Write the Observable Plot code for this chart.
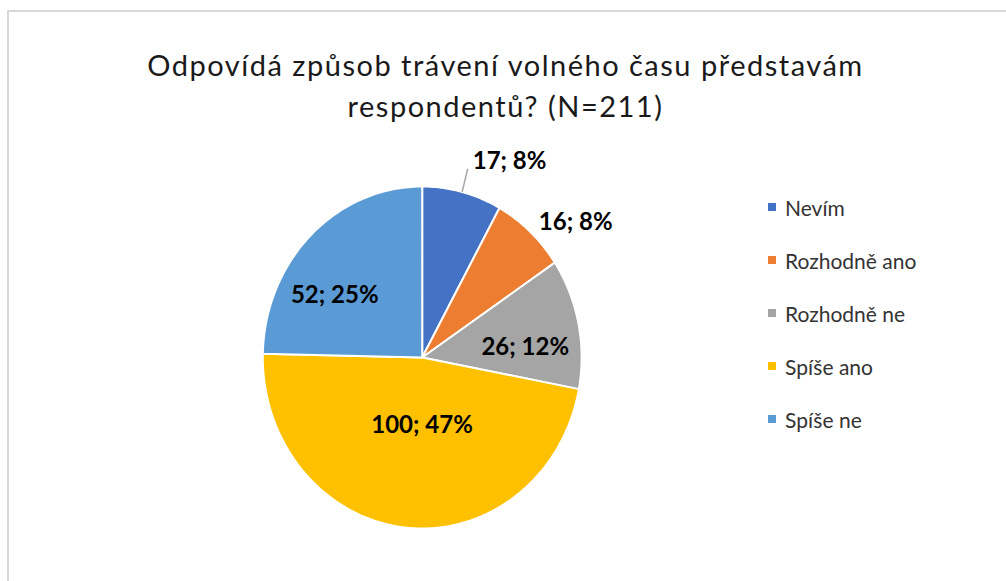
<!DOCTYPE html>
<html><head><meta charset="utf-8">
<script src="https://cdn.jsdelivr.net/npm/d3@7"></script>
<script src="https://cdn.jsdelivr.net/npm/@observablehq/plot@0.6"></script>
<style>
html,body{margin:0;padding:0;background:#fff;overflow:hidden;}
#wrap{position:relative;width:1006px;height:581px;overflow:hidden;}
#frame{position:absolute;left:7px;top:10px;width:1100px;height:700px;border-top:2px solid #d9d9d9;border-left:2px solid #d9d9d9;}
#chart{position:absolute;left:0;top:0;}
#title{position:absolute;left:0;top:44px;width:1011px;text-align:center;font-family:Lato,sans-serif;font-size:29px;line-height:41px;letter-spacing:1.5px;color:#1a1a1a;}
#legend{position:absolute;left:768px;top:180.5px;}
#legend > div{display:flex !important;flex-direction:column !important;align-items:flex-start !important;margin:0 !important;min-height:0 !important;font-family:Lato,sans-serif !important;font-size:21px !important;}
#legend [class$="-swatch"]{display:flex !important;align-items:center !important;height:53px;margin:0 !important;font-family:Lato,sans-serif !important;font-size:21px !important;color:#333;}
#legend [class$="-swatch"] > svg{margin-right:9px !important;}
</style></head>
<body>
<div id="wrap"><div id="frame"></div><div id="chart"></div>
<div id="title">Odpovídá způsob trávení volného času představám<br>respondentů? (N=211)</div>
<div id="legend"></div></div>
<script>
const categories = ["Nevím", "Rozhodně ano", "Rozhodně ne", "Spíše ano", "Spíše ne"];
const counts = [17, 16, 26, 100, 52];
const colors = ["#4472C4", "#ED7D31", "#A5A5A5", "#FFC000", "#5B9BD5"];
const showLeader = [true, false, false, false, false];

// label layout (styling)
const labelRadius = [1.14, 1.08, 0.66, 0.40, 0.65];
const labelAnchor = ["start", "start", "middle", "middle", "middle"];
const labelNudge = [[5, -7], [0, 0.5], [0, 12], [6.5, 0], [-15, 17.5]];

const total = d3.sum(counts);
const arcs = d3.pie().sort(null).value(d => d)(counts);

const slicePts = arcs.flatMap((a, i) => {
  const n = Math.max(2, Math.ceil((a.endAngle - a.startAngle) / (Math.PI / 180)));
  const pts = [{cat: categories[i], x: 0, y: 0}];
  for (let k = 0; k <= n; k++) {
    const t = a.startAngle + (a.endAngle - a.startAngle) * k / n;
    pts.push({cat: categories[i], x: Math.sin(t), y: Math.cos(t)});
  }
  return pts;
});

const labels = arcs.map((a, i) => {
  const mid = (a.startAngle + a.endAngle) / 2;
  return {
    cat: categories[i],
    mid,
    text: `${counts[i]}; ${Math.round(counts[i] / total * 100)}%`,
    x: labelRadius[i] * Math.sin(mid),
    y: labelRadius[i] * Math.cos(mid)
  };
});

const leaders = labels.filter((d, i) => showLeader[i]).map(d => {
  const i = categories.indexOf(d.cat);
  return {
    x1: Math.sin(d.mid), y1: Math.cos(d.mid),
    x2: labelRadius[i] * Math.sin(d.mid), y2: labelRadius[i] * Math.cos(d.mid)
  };
});

const chart = Plot.plot({
  width: 1006,
  height: 581,
  margin: 0,
  style: {background: "transparent", overflow: "visible"},
  x: {domain: [-1, 1], range: [262.3, 581.1], axis: null},
  y: {domain: [-1, 1], range: [528, 186], axis: null},
  color: {domain: categories, range: colors},
  marks: [
    Plot.line(slicePts, {x: "x", y: "y", z: "cat", fill: "cat", stroke: "white", strokeWidth: 2, strokeLinejoin: "round", curve: "linear-closed"}),
    Plot.link(leaders, {x1: "x1", y1: "y1", x2: "x2", y2: "y2", stroke: "#a6a6a6", strokeWidth: 1.5}),
    ...labels.map((d, i) => Plot.text([d], {
      x: "x", y: "y", text: "text",
      textAnchor: labelAnchor[i], dx: labelNudge[i][0], dy: labelNudge[i][1],
      fontSize: 24, fontWeight: "bold", fontFamily: "Lato, sans-serif", fill: "black"
    }))
  ]
});
document.getElementById("chart").appendChild(chart);

const legend = Plot.legend({
  color: {domain: categories, range: colors},
  legend: "swatches",
  swatchSize: 8
});
document.getElementById("legend").appendChild(legend);
</script>
</body></html>
